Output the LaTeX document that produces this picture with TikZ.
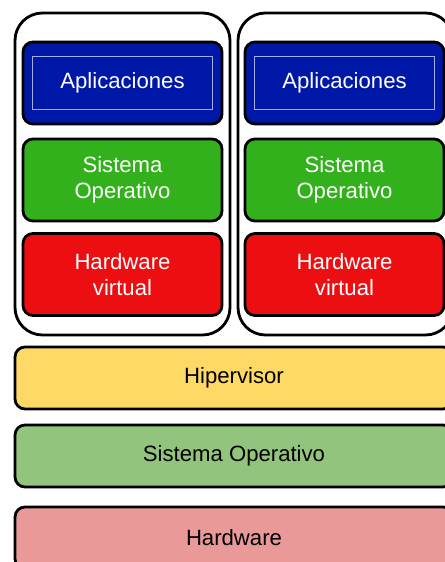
\documentclass[tikz,border=0pt]{standalone}
\usepackage{fontspec}
\setmainfont{Liberation Sans}

\definecolor{azul}{RGB}{0,24,168}
\definecolor{verde}{RGB}{51,177,28}
\definecolor{rojo}{RGB}{237,14,18}
\definecolor{amarillo}{RGB}{255,217,102}
\definecolor{verdeclaro}{RGB}{147,196,125}
\definecolor{rojoclaro}{RGB}{234,153,153}

\begin{document}
\begin{tikzpicture}[
    capa/.style={draw, line width=1.6pt, rounded corners=0.2cm, minimum width=3.98cm, minimum height=1.64cm, inner sep=0pt, align=center, text=white, font=\fontsize{12.6}{14.5}\selectfont},
    caja/.style={draw, line width=1.6pt, rounded corners=0.55cm, minimum width=4.3cm, minimum height=6.44cm, inner sep=0pt},
    base/.style={draw, line width=1.6pt, rounded corners=0.2cm, minimum width=8.76cm, minimum height=1.24cm, inner sep=0pt, font=\fontsize{12.6}{14.5}\selectfont}]
    \useasboundingbox (0, 0) rectangle (8.88, -11.24);

    % máquinas virtuales
    \node[caja] (M1) at (2.45, -3.48) {};
    \node[caja] (M2) at (6.91, -3.48) {};

    % capas de cada máquina
    \node[capa, fill=azul] (A1) at (2.45, -1.66) {};
    \node[capa, fill=verde] (S1) at (2.45, -3.6) {Sistema\\Operativo};
    \node[capa, fill=rojo] (H1) at (2.45, -5.49) {Hardware\\virtual};
    \node[capa, fill=azul] (A2) at (6.89, -1.66) {};
    \node[capa, fill=verde] (S2) at (6.89, -3.6) {Sistema\\Operativo};
    \node[capa, fill=rojo] (H2) at (6.89, -5.49) {Hardware\\virtual};

    % marco interior
    \node[draw=white!65!azul, line width=0.6pt, minimum width=3.6cm, minimum height=1.06cm, text=white, font=\fontsize{12.6}{14.5}\selectfont] (P1) at (A1) {Aplicaciones};
    \node[draw=white!65!azul, line width=0.6pt, minimum width=3.6cm, minimum height=1.06cm, text=white, font=\fontsize{12.6}{14.5}\selectfont] (P2) at (A2) {Aplicaciones};

    % capas comunes
    \node[base, fill=amarillo] (V) at (4.68, -7.56) {Hipervisor};
    \node[base, fill=verdeclaro] (O) at (4.68, -9.12) {Sistema Operativo};
    \node[base, fill=rojoclaro] (W) at (4.68, -10.76) {Hardware};

  \end{tikzpicture}
\end{document}
